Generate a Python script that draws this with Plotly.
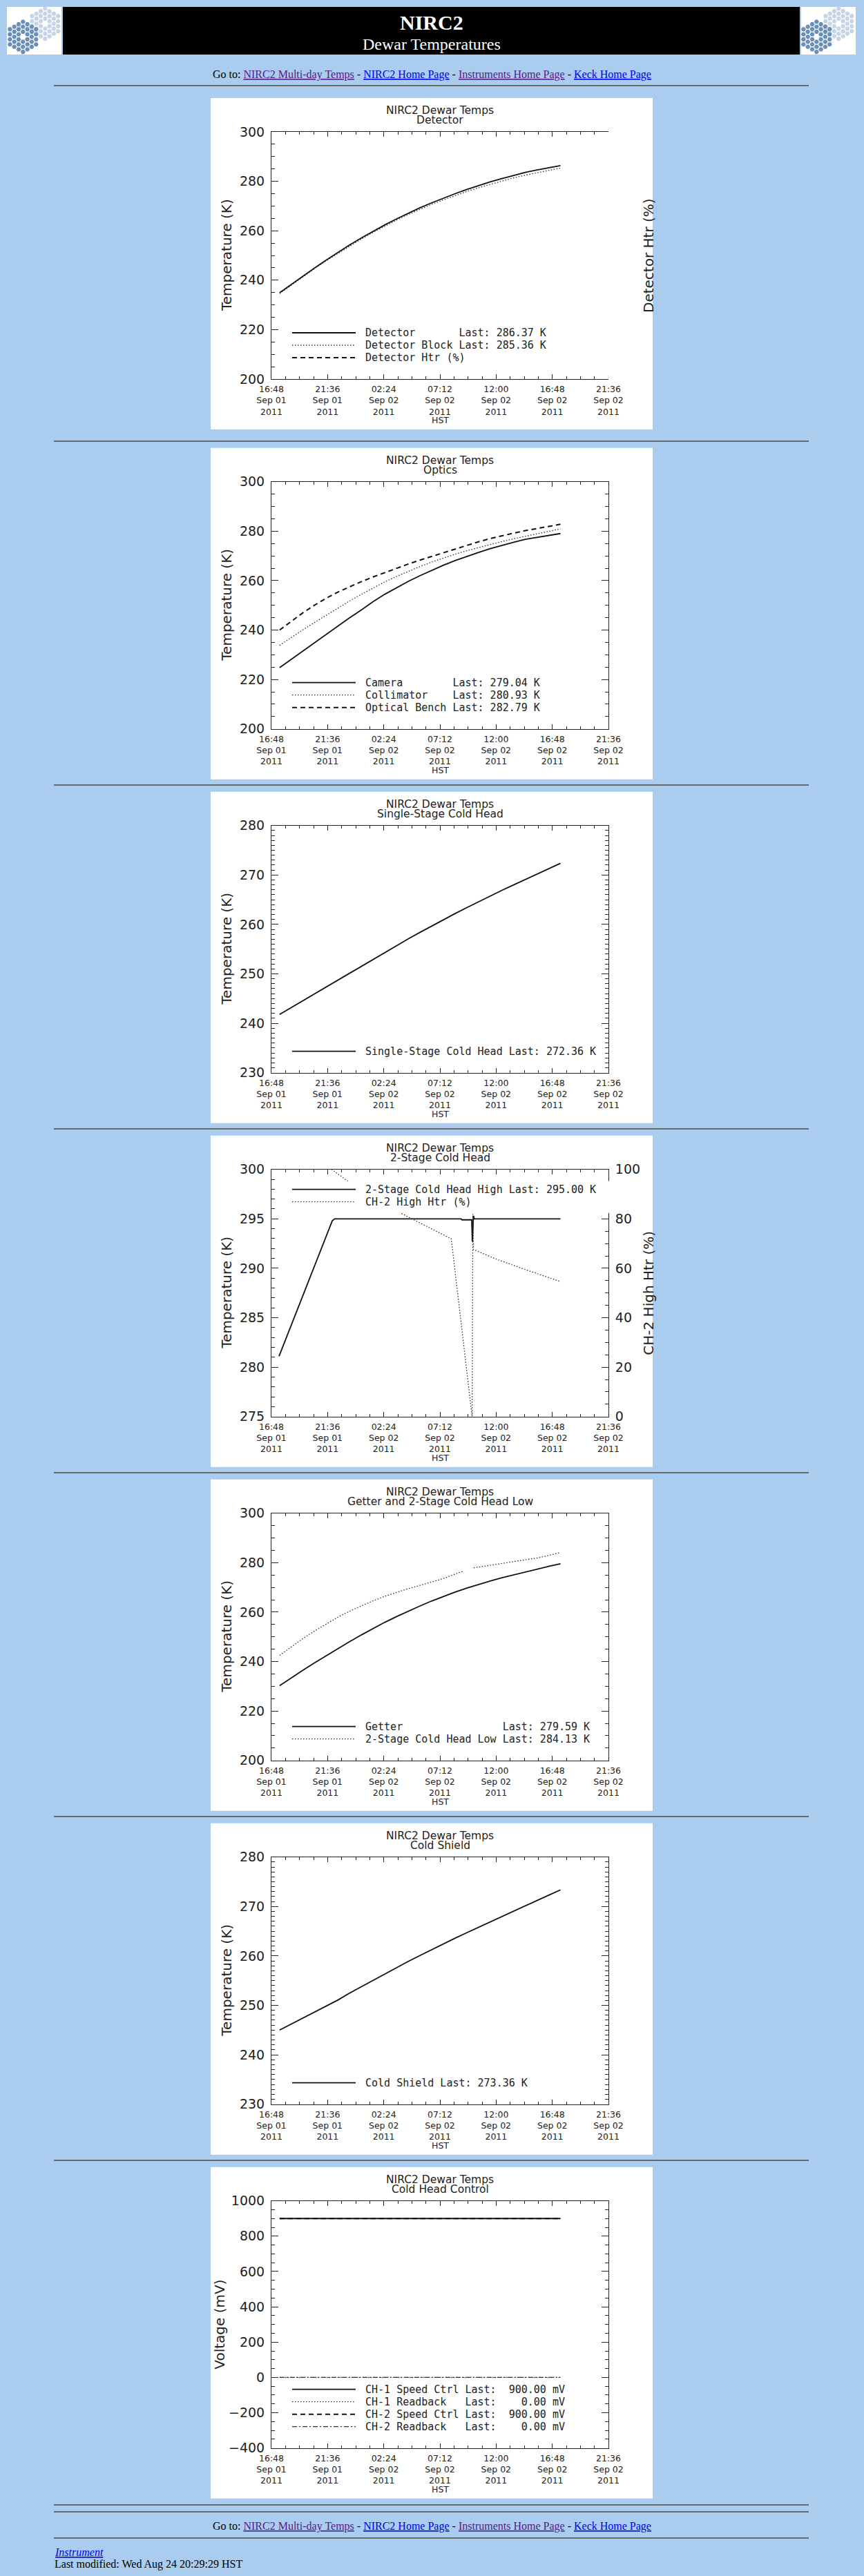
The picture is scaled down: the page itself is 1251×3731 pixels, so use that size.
import plotly.graph_objects as go

W, H = 1251, 3731
PAGE_BG = "#AACCEE"
INK = "#222222"
CHART_FONT = "DejaVu Sans"
MONO_FONT = "DejaVu Sans Mono"
PAGE_FONT = "Liberation Serif"

# ---------------- data ----------------
# shared time axis (HST)
x_ticks = ["2011-09-01 16:48", "2011-09-01 21:36", "2011-09-02 02:24",
           "2011-09-02 07:12", "2011-09-02 12:00", "2011-09-02 16:48",
           "2011-09-02 21:36"]
x_tick_text = ["16:48<br>Sep 01<br>2011", "21:36<br>Sep 01<br>2011",
               "02:24<br>Sep 02<br>2011", "07:12<br>Sep 02<br>2011",
               "12:00<br>Sep 02<br>2011", "16:48<br>Sep 02<br>2011",
               "21:36<br>Sep 02<br>2011"]

# hourly samples, 17:30 Sep 01 -> 17:30 Sep 02
hours = ["2011-09-01 17:30", "2011-09-01 18:30", "2011-09-01 19:30", "2011-09-01 20:30",
         "2011-09-01 21:30", "2011-09-01 22:30", "2011-09-01 23:30", "2011-09-02 00:30",
         "2011-09-02 01:30", "2011-09-02 02:30", "2011-09-02 03:30", "2011-09-02 04:30",
         "2011-09-02 05:30", "2011-09-02 06:30", "2011-09-02 07:30", "2011-09-02 08:30",
         "2011-09-02 09:30", "2011-09-02 10:30", "2011-09-02 11:30", "2011-09-02 12:30",
         "2011-09-02 13:30", "2011-09-02 14:30", "2011-09-02 15:30", "2011-09-02 16:30",
         "2011-09-02 17:30"]

detector = [234.9, 238.3, 241.7, 245.0, 248.2, 251.3, 254.3, 257.1, 259.8, 262.4, 264.8, 267.1,
            269.3, 271.3, 273.2, 275.0, 276.7, 278.3, 279.8, 281.1, 282.4, 283.6, 284.6, 285.5, 286.37]
detector_block = [234.6, 238.0, 241.4, 244.7, 247.9, 250.9, 253.9, 256.7, 259.4, 261.9, 264.3, 266.6,
                  268.7, 270.7, 272.5, 274.3, 275.9, 277.4, 278.8, 280.1, 281.4, 282.5, 283.5, 284.5, 285.36]

camera = [224.8, 228.2, 231.6, 235.0, 238.3, 241.7, 245.0, 248.2, 251.5, 254.5, 257.2, 259.7,
          262.0, 264.2, 266.2, 268.1, 269.8, 271.4, 272.9, 274.3, 275.5, 276.7, 277.5, 278.3, 279.04]
collimator = [233.8, 237.0, 240.1, 243.1, 246.0, 249.0, 251.8, 254.5, 257.1, 259.5, 261.7, 263.8,
              265.7, 267.5, 269.2, 270.7, 272.1, 273.4, 274.6, 275.8, 276.9, 277.9, 278.9, 279.9, 280.93]
optical_bench = [240.0, 243.6, 247.0, 250.1, 252.9, 255.4, 257.6, 259.6, 261.5, 263.3, 265.0, 266.7,
                 268.3, 269.8, 271.3, 272.8, 274.3, 275.7, 277.0, 278.2, 279.2, 280.2, 281.1, 282.0, 282.79]

single_stage = [241.8, 243.2, 244.6, 246.0, 247.4, 248.8, 250.2, 251.6, 253.0, 254.4, 255.8, 257.1,
                258.4, 259.7, 261.0, 262.2, 263.4, 264.6, 265.8, 266.9, 268.0, 269.1, 270.2, 271.3, 272.36]

ch2_high_times = ["2011-09-01 17:27", "2011-09-01 22:00", "2011-09-01 22:12", "2011-09-02 09:00",
                  "2011-09-02 09:05", "2011-09-02 09:55", "2011-09-02 09:58", "2011-09-02 10:01",
                  "2011-09-02 10:04", "2011-09-02 10:08", "2011-09-02 17:30"]
ch2_high = [281.1, 294.8, 295.0, 295.0, 294.9, 294.9, 292.7, 294.9, 295.3, 295.0, 295.0]

ch2_htr_times = ["2011-09-01 21:45", "2011-09-01 23:11", "2011-09-02 03:44", "2011-09-02 06:08",
                 "2011-09-02 08:10", "2011-09-02 09:57", "2011-09-02 10:01", "2011-09-02 10:04",
                 "2011-09-02 11:57", "2011-09-02 14:29", "2011-09-02 17:30"]
ch2_htr = [100.7, 95.7, 82.6, 76.7, 71.9, 0.0, 82.0, 67.6, 63.8, 59.5, 54.6]

getter = [230.2, 233.4, 236.5, 239.5, 242.4, 245.3, 248.1, 250.8, 253.4, 255.9, 258.2, 260.4,
          262.5, 264.5, 266.4, 268.1, 269.7, 271.2, 272.6, 273.9, 275.1, 276.3, 277.4, 278.5, 279.59]
ch2_low_times = ["2011-09-01 17:30", "2011-09-01 18:30", "2011-09-01 19:30", "2011-09-01 20:30",
                 "2011-09-01 21:30", "2011-09-01 22:30", "2011-09-01 23:30", "2011-09-02 00:30",
                 "2011-09-02 01:30", "2011-09-02 02:30", "2011-09-02 03:30", "2011-09-02 04:30",
                 "2011-09-02 05:30", "2011-09-02 06:30", "2011-09-02 07:30", "2011-09-02 08:30",
                 "2011-09-02 09:15", "2011-09-02 09:40", "2011-09-02 10:05", "2011-09-02 10:30",
                 "2011-09-02 11:30", "2011-09-02 12:30", "2011-09-02 13:30", "2011-09-02 14:30",
                 "2011-09-02 15:30", "2011-09-02 16:30", "2011-09-02 17:30"]
ch2_low = [242.5, 246.0, 249.3, 252.4, 255.3, 258.0, 260.4, 262.6, 264.6, 266.4, 268.0, 269.5,
           270.8, 272.3, 273.6, 275.4, 276.6, None, 277.9, 278.2, 278.8, 279.6, 280.3, 281.1,
           281.9, 282.9, 284.13]

cold_shield = [245.0, 246.2, 247.4, 248.6, 249.8, 251.1, 252.5, 253.8, 255.1, 256.4, 257.7, 258.9,
               260.1, 261.3, 262.5, 263.6, 264.7, 265.8, 266.9, 268.0, 269.0, 270.1, 271.2, 272.3, 273.36]

ctrl_times = ["2011-09-01 17:30", "2011-09-02 17:30"]
ch1_speed = [900.0, 900.0]
ch1_readback = [0.0, 0.0]
ch2_speed = [900.0, 900.0]
ch2_readback = [0.0, 0.0]

# ---------------- page geometry (pixels) ----------------
PANEL_X = 305
PANEL_W, PANEL_H = 640, 480
PLOT_L, PLOT_R, PLOT_T, PLOT_B = 88, 576, 49, 407
panel_tops = [142.0, 648.7, 1146.7, 1644.7, 2142.7, 2640.7, 3138.7]
hr_rows = [124, 639, 1137, 1635, 2133, 2631, 3129, 3628, 3638, 3676]

LINE = {
    "solid": dict(color="#111111", width=1.8),
    "dot": dict(color="#2a2a2a", width=1.3, dash="1.5px,2.5px"),
    "dash": dict(color="#111111", width=2.0, dash="7px,5px"),
    "dashdot": dict(color="#333333", width=1.2, dash="7px,3px,2px,3px"),
}

charts = [
    dict(sub="Detector", ytitle="Temperature (K)", yrange=[200, 300], ydtick=20, yminor=5,
         series=[(hours, detector, "solid", False), (hours, detector_block, "dot", False)],
         legend=[("solid", "Detector", detector), ("dot", "Detector Block", detector_block),
                 ("dash", "Detector Htr (%)", None)],
         fmt="{:6.2f} K", y2=dict(title="Detector Htr (%)", range=[0, 100], dtick=20, minor=5)),
    dict(sub="Optics", ytitle="Temperature (K)", yrange=[200, 300], ydtick=20, yminor=5,
         series=[(hours, camera, "solid", False), (hours, collimator, "dot", False),
                 (hours, optical_bench, "dash", False)],
         legend=[("solid", "Camera", camera), ("dot", "Collimator", collimator),
                 ("dash", "Optical Bench", optical_bench)],
         fmt="{:6.2f} K"),
    dict(sub="Single-Stage Cold Head", ytitle="Temperature (K)", yrange=[230, 280], ydtick=10, yminor=1,
         series=[(hours, single_stage, "solid", False)],
         legend=[("solid", "Single-Stage Cold Head", single_stage)],
         fmt="{:6.2f} K"),
    dict(sub="2-Stage Cold Head", ytitle="Temperature (K)", yrange=[275, 300], ydtick=5, yminor=1,
         series=[(ch2_high_times, ch2_high, "solid", False), (ch2_htr_times, ch2_htr, "dot", True)],
         legend=[("solid", "2-Stage Cold Head High", ch2_high), ("dot", "CH-2 High Htr (%)", None)],
         fmt="{:6.2f} K", legend_top=78, legend_box=[112, 582, 66, 112],
         y2=dict(title="CH-2 High Htr (%)", range=[0, 100], dtick=20, minor=5)),
    dict(sub="Getter and 2-Stage Cold Head Low", ytitle="Temperature (K)", yrange=[200, 300],
         ydtick=20, yminor=5,
         series=[(hours, getter, "solid", False), (ch2_low_times, ch2_low, "dot", False)],
         legend=[("solid", "Getter", getter), ("dot", "2-Stage Cold Head Low", ch2_low)],
         fmt="{:6.2f} K"),
    dict(sub="Cold Shield", ytitle="Temperature (K)", yrange=[230, 280], ydtick=10, yminor=1,
         series=[(hours, cold_shield, "solid", False)],
         legend=[("solid", "Cold Shield", cold_shield)],
         fmt="{:6.2f} K"),
    dict(sub="Cold Head Control", ytitle="Voltage (mV)", yrange=[-400, 1000], ydtick=200, yminor=50,
         series=[(ctrl_times, ch1_speed, "solid", False), (ctrl_times, ch1_readback, "dot", False),
                 (ctrl_times, ch2_speed, "dash", False), (ctrl_times, ch2_readback, "dashdot", False)],
         legend=[("solid", "CH-1 Speed Ctrl", ch1_speed), ("dot", "CH-1 Readback", ch1_readback),
                 ("dash", "CH-2 Speed Ctrl", ch2_speed), ("dashdot", "CH-2 Readback", ch2_readback)],
         fmt="{:7.2f} mV", ytitle_x=13),
]


def px_x(v):
    return v / W


def px_y(v):
    return 1 - v / H


fig = go.Figure()
shapes = []
annotations = []
layout_axes = {}


def text(x, y, s, size, family=CHART_FONT, color=INK, xanchor="center", angle=0):
    annotations.append(dict(x=px_x(x), y=px_y(y), xref="paper", yref="paper", text=s,
                            showarrow=False, xanchor=xanchor, yanchor="middle", textangle=angle,
                            font=dict(family=family, size=size, color=color)))


def rect(x0, x1, y0, y1, fill, layer="below"):
    shapes.append(dict(type="rect", xref="paper", yref="paper", x0=px_x(x0), x1=px_x(x1),
                       y0=px_y(y1), y1=px_y(y0), fillcolor=fill, line=dict(width=0), layer=layer))


# ---------------- header ----------------
rect(10, 89, 10, 79, "white")
rect(91, 1158, 10, 79, "black")
rect(1160, 1239, 10, 79, "white")
text(625, 33, "<b>NIRC2</b>", 30, PAGE_FONT, "white")
text(625, 64, "Dewar Temperatures", 24, PAGE_FONT, "white")

goto = ("Go to: <span style='color:#551A8B'><u>NIRC2 Multi-day Temps</u></span> - "
        "<span style='color:#0000EE'><u>NIRC2 Home Page</u></span> - "
        "<span style='color:#551A8B'><u>Instruments Home Page</u></span> - "
        "<span style='color:#0000EE'><u>Keck Home Page</u></span>")
text(625, 108, goto, 16, PAGE_FONT, "black")
text(625, 3659, goto, 16, PAGE_FONT, "black")
text(77, 3696, "<i><u>Instrument</u></i>", 16, PAGE_FONT, "#0000EE", xanchor="left")
text(77, 3714, "Last modified: Wed Aug 24 20:29:29 HST", 16, PAGE_FONT, "black", xanchor="left")

for yy in hr_rows:
    shapes.append(dict(type="line", xref="paper", yref="paper", x0=px_x(78), x1=px_x(1171),
                       y0=px_y(yy), y1=px_y(yy), line=dict(color="#686868", width=2)))

# Keck mirror logos (hexagon segments), drawn on a hidden pixel axis
hx, hy, hc = [], [], []
for off in (0, 1149):
    for (cx, cy, col) in ((65.3, 34.3, "#C6D5E6"), (33.3, 53.3, "#6A8FB8")):
        for q in range(-3, 4):
            for s in range(-3, 4):
                if abs(q + s) <= 3 and (q, s) != (0, 0):
                    hx.append(off + cx + 6.3 * q)
                    hy.append(cy + 7.27 * (s + q / 2))
                    hc.append(col)
fig.add_trace(go.Scatter(x=hx, y=hy, mode="markers", xaxis="x8", yaxis="y10",
                         marker=dict(symbol="hexagon2", size=7, color=hc, line=dict(width=0)),
                         showlegend=False, hoverinfo="skip"))
layout_axes["xaxis8"] = dict(domain=[0, 1], range=[0, W], visible=False, anchor="y10")
layout_axes["yaxis10"] = dict(domain=[px_y(95), 1], range=[95, 0], visible=False, anchor="x8")

# ---------------- the seven IDL plots ----------------
axis_font = dict(family=CHART_FONT, size=19, color=INK)
y2_ids = {0: 8, 3: 9}

for i, ch in enumerate(charts):
    n = i + 1
    top = panel_tops[i]
    xid = "x" if n == 1 else f"x{n}"
    yid = "y" if n == 1 else f"y{n}"
    xkey = "xaxis" if n == 1 else f"xaxis{n}"
    ykey = "yaxis" if n == 1 else f"yaxis{n}"
    has_y2 = "y2" in ch

    rect(PANEL_X, PANEL_X + PANEL_W, top, top + PANEL_H, "white")

    layout_axes[xkey] = dict(
        domain=[px_x(PANEL_X + PLOT_L), px_x(PANEL_X + PLOT_R)], anchor=yid, type="date",
        range=[x_ticks[0], x_ticks[-1]], tickmode="array", tickvals=x_ticks, ticktext=x_tick_text,
        ticks="inside", ticklen=7, tickwidth=1, tickcolor=INK, showline=True, linecolor=INK,
        linewidth=1, mirror="ticks", showgrid=False, zeroline=False, ticklabelstandoff=3,
        automargin=False, tickfont=dict(family=CHART_FONT, size=12.5, color=INK),
        minor=dict(ticks="inside", ticklen=4, tickcolor=INK, tickwidth=1,
                   tick0=x_ticks[0], dtick=72 * 60 * 1000))
    y0, y1 = ch["yrange"]
    layout_axes[ykey] = dict(
        domain=[px_y(top + PLOT_B), px_y(top + PLOT_T)], anchor=xid, range=[y0, y1],
        tickmode="linear", tick0=y0, dtick=ch["ydtick"], ticks="inside", ticklen=10, tickwidth=1,
        tickcolor=INK, showline=True, linecolor=INK, linewidth=1,
        mirror=False if has_y2 else "ticks", showgrid=False, zeroline=False,
        ticklabelstandoff=5, tickfont=axis_font, automargin=False,
        minor=dict(ticks="inside", ticklen=5, tickcolor=INK, tickwidth=1, tick0=y0,
                   dtick=ch["yminor"]))
    y2id = None
    if has_y2:
        k = y2_ids[i]
        y2id = f"y{k}"
        a = ch["y2"]
        layout_axes[f"yaxis{k}"] = dict(
            overlaying=yid, anchor=xid, side="right", range=a["range"], tickmode="linear",
            tick0=a["range"][0], dtick=a["dtick"], ticks="inside", ticklen=10, tickwidth=1,
            tickcolor=INK, showline=True, linecolor=INK, linewidth=1, showgrid=False,
            zeroline=False, ticklabelstandoff=5, tickfont=axis_font, automargin=False,
            minor=dict(ticks="inside", ticklen=5, tickcolor=INK, tickwidth=1,
                       tick0=a["range"][0], dtick=a["minor"]))
        text(PANEL_X + 634, top + (PLOT_T + PLOT_B) / 2, a["title"], 20, angle=-90)

    for times, vals, style, on_y2 in ch["series"]:
        fig.add_trace(go.Scatter(x=times, y=vals, mode="lines", line=LINE[style],
                                 xaxis=xid, yaxis=y2id if on_y2 else yid,
                                 showlegend=False, hoverinfo="skip", connectgaps=False))

    # titles
    cx = PANEL_X + (PLOT_L + PLOT_R) / 2
    text(cx, top + 18, "NIRC2 Dewar Temps", 15.5)
    text(cx, top + 32, ch["sub"], 15.5)
    text(PANEL_X + ch.get("ytitle_x", 23), top + (PLOT_T + PLOT_B) / 2, ch["ytitle"], 20, angle=-90)
    text(cx, top + 467, "HST", 12.5)

    # IDL style legend drawn inside the plot
    if "legend_box" in ch:
        bx0, bx1, by0, by1 = ch["legend_box"]
        rect(PANEL_X + bx0, PANEL_X + bx1, top + by0, top + by1, "white", layer="above")
    rows = ch["legend"]
    pad = max(len(name) for _, name, vals in rows if vals is not None)
    first = ch.get("legend_top", 376 - 18 * (len(rows) - 1))
    for r, (style, name, vals) in enumerate(rows):
        ry = top + first + 18 * r
        shapes.append(dict(type="line", xref="paper", yref="paper",
                           x0=px_x(PANEL_X + 118), x1=px_x(PANEL_X + 210),
                           y0=px_y(ry), y1=px_y(ry), line=LINE[style], layer="above"))
        if vals is not None:
            label = name.ljust(pad) + " Last: " + ch["fmt"].format(vals[-1])
        else:
            label = name
        text(PANEL_X + 222, ry, label.replace(" ", "\u00a0"), 15, MONO_FONT, xanchor="left")

fig.update_layout(
    width=W, height=H, margin=dict(l=0, r=0, t=0, b=0, pad=0, autoexpand=False),
    paper_bgcolor=PAGE_BG, plot_bgcolor="rgba(0,0,0,0)",
    showlegend=False, shapes=shapes, annotations=annotations, **layout_axes)

fig.write_html("out.html", config={"displayModeBar": False},
               post_script="document.body.style.margin='0';"
                           "document.body.style.overflow='hidden';"
                           "document.body.style.background='" + PAGE_BG + "';")
